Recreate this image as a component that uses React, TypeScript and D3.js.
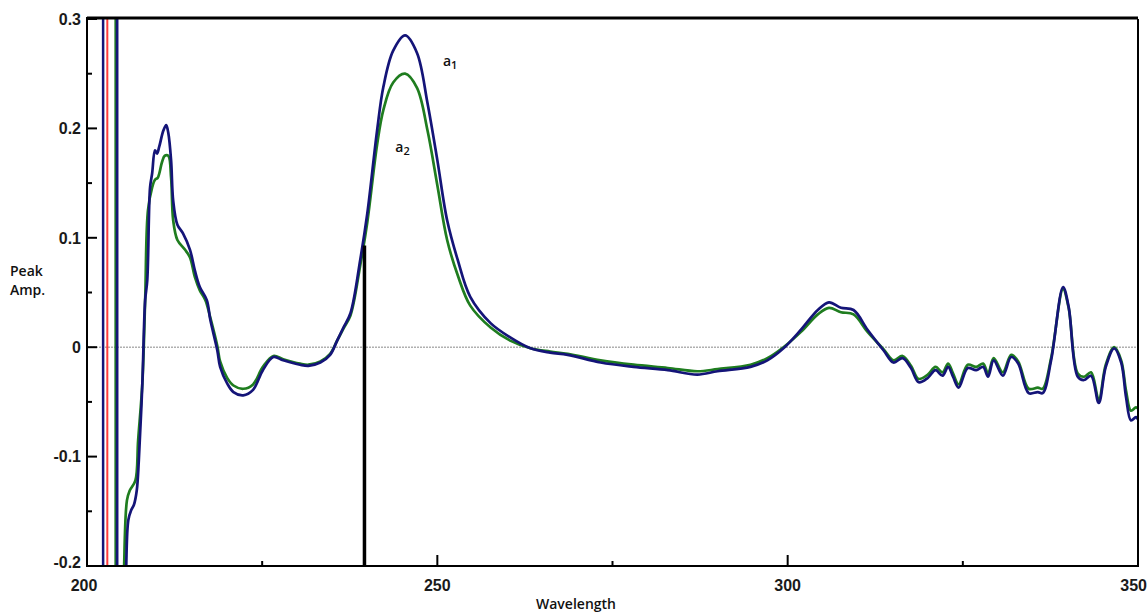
import React from 'react';
import * as d3 from 'd3';

// ---- data ----
const xTicksMajor = [200, 250, 300, 350];
const xTicksMinor = [225, 275, 325];
const yTicksMajor = [-0.2, -0.1, 0, 0.1, 0.2, 0.3];
const yTickLabels = ['-0.2', '-0.1', '0', '0.1', '0.2', '0.3'];
const yTicksMinor = [-0.15, -0.05, 0.05, 0.15, 0.25];

// off-scale traces (full height verticals)
const offscaleWl = [202.3, 202.9];
const offscaleSeries = ['a1', 'ref'];

// derivative spectrum a1 (blue)
const a1Points: [number, number][] = [
  [204.3, 0.4], [204.3, -0.25], [205.5, -0.25], [205.6, -0.2], [205.9, -0.158], [206.3, -0.149],
  [206.7, -0.144], [207.1, -0.131], [207.4, -0.103], [207.9, -0.033], [208.3, 0.043], [208.6, 0.061],
  [209.0, 0.146], [209.3, 0.159], [209.7, 0.18], [210.0, 0.177], [210.3, 0.183], [210.9, 0.198],
  [211.3, 0.203], [211.6, 0.196], [212.0, 0.171], [212.3, 0.134], [212.9, 0.112], [213.7, 0.104],
  [214.7, 0.089], [215.4, 0.07], [216.1, 0.055], [217.1, 0.043], [217.6, 0.025], [218.6, -0.003],
  [219.0, -0.018], [220.0, -0.033], [220.9, -0.041], [222.3, -0.044], [223.7, -0.039], [225.1, -0.021],
  [226.6, -0.009], [228.0, -0.012], [230.4, -0.016], [231.6, -0.017], [233.3, -0.014], [234.7, -0.007],
  [235.7, 0.006], [236.6, 0.018], [237.6, 0.031], [239.0, 0.08], [240.0, 0.122], [241.4, 0.198],
  [242.3, 0.238], [243.7, 0.271], [245.4, 0.285], [247.1, 0.269], [248.6, 0.223], [250.0, 0.171],
  [251.4, 0.116], [252.9, 0.08], [254.7, 0.046], [257.6, 0.022], [260.4, 0.009], [263.3, -0.001],
  [266.1, -0.005], [268.6, -0.007], [273.3, -0.014], [278.0, -0.018], [282.9, -0.021], [287.1, -0.025],
  [290.0, -0.022], [294.7, -0.018], [297.1, -0.012], [299.4, -0.001], [301.9, 0.016], [304.3, 0.034],
  [305.9, 0.041], [307.6, 0.036], [309.4, 0.034], [311.4, 0.016], [313.7, -0.003], [315.1, -0.014],
  [316.4, -0.01], [317.6, -0.019], [318.7, -0.032], [320.0, -0.028], [321.1, -0.021], [322.1, -0.026],
  [322.9, -0.018], [323.6, -0.027], [324.4, -0.037], [325.7, -0.019], [326.9, -0.021], [327.9, -0.018],
  [328.6, -0.027], [329.4, -0.012], [330.7, -0.026], [331.9, -0.009], [332.9, -0.015], [334.4, -0.042],
  [335.7, -0.041], [336.4, -0.042], [337.6, -0.012], [339.3, 0.055], [340.1, 0.037], [341.4, -0.027],
  [342.3, -0.03], [343.3, -0.026], [344.4, -0.051], [345.4, -0.018], [346.6, -0.001], [347.6, -0.014],
  [348.3, -0.046], [349.0, -0.067], [349.7, -0.064], [350.0, -0.066],
];

// derivative spectrum a2 (green)
const a2Points: [number, number][] = [
  [204.1, 0.4], [204.1, -0.25], [205.2, -0.25], [205.3, -0.2], [205.7, -0.14], [206.1, -0.131],
  [206.9, -0.122], [207.3, -0.085], [207.9, -0.033], [208.3, 0.043], [208.7, 0.125], [209.3, 0.146],
  [209.7, 0.153], [210.1, 0.155], [210.7, 0.169], [211.1, 0.175], [211.6, 0.175], [212.0, 0.155],
  [212.3, 0.116], [212.9, 0.098], [214.0, 0.089], [214.7, 0.082], [215.4, 0.064], [216.1, 0.052],
  [216.9, 0.043], [217.6, 0.027], [218.6, 0.001], [219.0, -0.013], [220.0, -0.028], [220.9, -0.035],
  [222.3, -0.038], [223.7, -0.034], [225.1, -0.018], [226.6, -0.008], [228.0, -0.011], [230.4, -0.015],
  [231.6, -0.016], [233.3, -0.013], [234.7, -0.006], [235.7, 0.006], [236.6, 0.017], [237.6, 0.029],
  [239.0, 0.075], [240.0, 0.114], [241.4, 0.185], [242.3, 0.217], [243.7, 0.242], [245.4, 0.25],
  [247.1, 0.237], [248.6, 0.198], [250.0, 0.148], [251.4, 0.098], [252.9, 0.066], [254.7, 0.038],
  [257.6, 0.018], [260.4, 0.006], [263.3, -0.001], [266.1, -0.004], [268.6, -0.006], [273.3, -0.012],
  [278.0, -0.016], [282.9, -0.019], [287.1, -0.022], [290.0, -0.02], [294.7, -0.016], [297.1, -0.01],
  [299.4, 0.0], [301.9, 0.014], [304.3, 0.03], [305.9, 0.036], [307.6, 0.032], [309.4, 0.03],
  [311.4, 0.014], [313.7, -0.002], [315.1, -0.012], [316.4, -0.008], [317.6, -0.017], [318.7, -0.029],
  [320.0, -0.025], [321.1, -0.018], [322.1, -0.023], [322.9, -0.015], [323.6, -0.024], [324.4, -0.034],
  [325.7, -0.016], [326.9, -0.018], [327.9, -0.015], [328.6, -0.024], [329.4, -0.01], [330.7, -0.023],
  [331.9, -0.007], [332.9, -0.013], [334.4, -0.038], [335.7, -0.037], [336.4, -0.038], [337.6, -0.01],
  [339.3, 0.053], [340.1, 0.036], [341.4, -0.024], [342.3, -0.027], [343.3, -0.023], [344.4, -0.048],
  [345.4, -0.016], [346.6, 0.0], [347.6, -0.012], [348.3, -0.04], [349.0, -0.058], [349.7, -0.055],
  [350.0, -0.056],
];

// measurement marker (wavelength, amplitude)
const markerWl = [239.6];
const markerAmp = [0.093];

const seriesLabels = [
  { name: 'a', sub: '1', wl: 250.8, amp: 0.257 },
  { name: 'a', sub: '2', wl: 244.0, amp: 0.178 },
];

export default function App() {
  const W = 1148, H = 613;
  const left = 87, right = 1138, top = 19, bottom = 566;
  const x = d3.scaleLinear().domain([200, 350]).range([left, right]);
  const y = d3.scaleLinear().domain([-0.2, 0.3]).range([bottom, top]);
  const smooth = d3.line<[number, number]>()
    .x(d => x(d[0]))
    .y(d => y(d[1]))
    .curve(d3.curveCatmullRom.alpha(0.5));
  const straight = d3.line<[number, number]>()
    .x(d => x(d[0]))
    .y(d => y(d[1]));

  // split a trace into its off-scale lead-in (straight) and the in-range part (smooth)
  const tracePaths = (pts: [number, number][]) => {
    const first = pts.findIndex(p => p[1] >= -0.2 && p[1] <= 0.3);
    const lead = pts.slice(0, first + 1);
    const rest = pts.slice(Math.max(0, first - 1));
    return [straight(lead) || '', smooth(rest) || ''];
  };

  const blue = '#141478';
  const green = '#1f7d1f';
  const red = '#ff3b3b';
  const font = '"Liberation Sans", Arial, sans-serif';
  const font2 = '"Open Sans", "Liberation Sans", sans-serif';

  const a1Paths = tracePaths(a1Points);
  const a2Paths = tracePaths(a2Points);

  return (
    <svg width={W} height={H} style={{ position: 'absolute', left: 0, top: 0, background: '#fff' }}>
      <defs>
        <clipPath id="plotclip">
          <rect x={left} y={top} width={right - left} height={bottom - top} />
        </clipPath>
      </defs>
      <rect x={0} y={0} width={W} height={H} fill="#fff" />
      {/* zero line */}
      <line x1={left} x2={right} y1={y(0)} y2={y(0)} stroke="#b0b0b0" strokeWidth={1.5} strokeDasharray="2,1" />
      <g clipPath="url(#plotclip)">
        {offscaleWl.map((wl, i) => (
          <line key={i} x1={x(wl)} x2={x(wl)} y1={top} y2={bottom}
            stroke={offscaleSeries[i] === 'ref' ? red : blue} strokeWidth={offscaleSeries[i] === 'ref' ? 2 : 2.5} />
        ))}
        {a2Paths.map((d, i) => (
          <path key={'g' + i} d={d} fill="none" stroke={green} strokeWidth={2.7} strokeLinejoin="round" />
        ))}
        {a1Paths.map((d, i) => (
          <path key={'b' + i} d={d} fill="none" stroke={blue} strokeWidth={2.7} strokeLinejoin="round" />
        ))}
        {markerWl.map((wl, i) => (
          <line key={i} x1={x(wl)} x2={x(wl)} y1={y(markerAmp[i])} y2={bottom} stroke="#000" strokeWidth={3.5} />
        ))}
      </g>
      {/* frame */}
      <line x1={left} x2={right} y1={top - 1} y2={top - 1} stroke="#000" strokeWidth={3} />
      <line x1={right} x2={right} y1={top} y2={bottom} stroke="#000" strokeWidth={2} />
      <line x1={left} x2={left} y1={top - 2} y2={bottom + 1} stroke="#000" strokeWidth={2} />
      <line x1={left - 1} x2={right + 1} y1={bottom} y2={bottom} stroke="#000" strokeWidth={2} />
      {/* y ticks */}
      {yTicksMajor.map((v, i) => (
        <g key={'ym' + i}>
          <line x1={left} x2={left + 10} y1={y(v)} y2={y(v)} stroke="#000" strokeWidth={2} />
          <text x={81} y={y(v)} dy={i === 0 ? '0.15em' : '0.36em'} textAnchor="end" fontFamily={font} fontSize={16} fontWeight="bold" fill="#1a1a1a">{yTickLabels[i]}</text>
        </g>
      ))}
      {yTicksMinor.map((v, i) => (
        <line key={'yn' + i} x1={left} x2={left + 5} y1={y(v)} y2={y(v)} stroke="#000" strokeWidth={2} />
      ))}
      {/* x ticks */}
      {xTicksMajor.map((v, i) => (
        <g key={'xm' + i}>
          <line x1={x(v)} x2={x(v)} y1={bottom} y2={bottom - 11} stroke="#000" strokeWidth={2} />
          <text x={i === 0 ? x(v) - 3 : i === xTicksMajor.length - 1 ? W - 1 : x(v)} y={591}
            textAnchor={i === xTicksMajor.length - 1 ? 'end' : 'middle'} fontFamily={font} fontSize={16} fontWeight="bold" fill="#1a1a1a">{v}</text>
        </g>
      ))}
      {xTicksMinor.map((v, i) => (
        <line key={'xn' + i} x1={x(v)} x2={x(v)} y1={bottom} y2={bottom - 5} stroke="#000" strokeWidth={2} />
      ))}
      {/* axis titles */}
      <text x={576} y={609} textAnchor="middle" fontFamily={font2} fontSize={14} fontWeight={600} fill="#111">Wavelength</text>
      <text x={10} y={276} fontFamily={font2} fontSize={14} fontWeight={600} fill="#111">Peak</text>
      <text x={10} y={295} fontFamily={font2} fontSize={14} fontWeight={600} fill="#111">Amp.</text>
      {/* series labels */}
      {seriesLabels.map((s, i) => (
        <text key={i} x={x(s.wl)} y={y(s.amp)} fontFamily={font2} fontSize={14} fontWeight={600} fill="#111">
          {s.name}<tspan dy={3} fontSize={11}>{s.sub}</tspan>
        </text>
      ))}
    </svg>
  );
}
